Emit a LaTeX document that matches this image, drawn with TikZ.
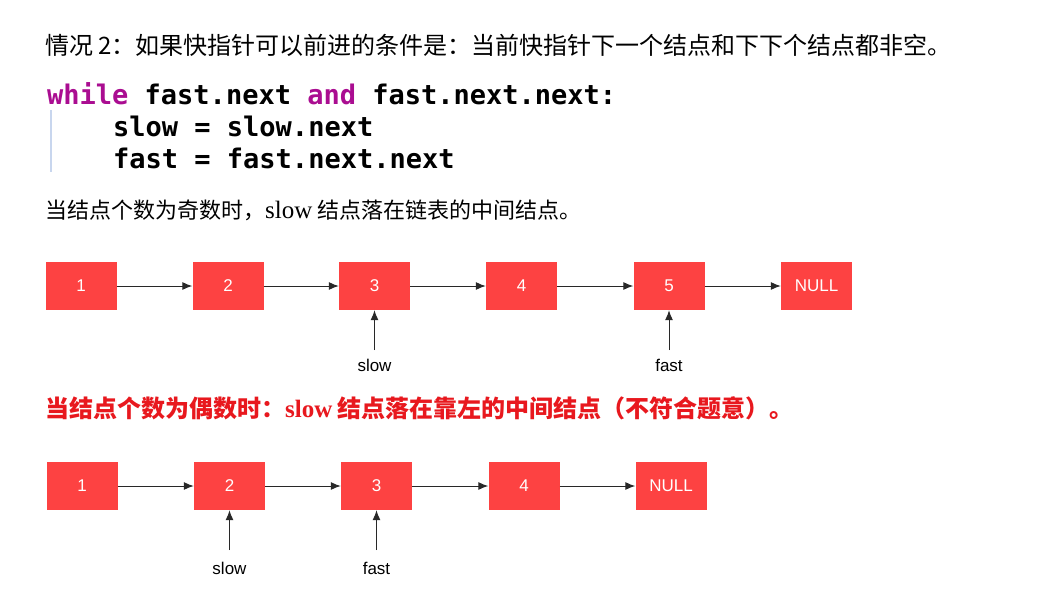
\documentclass[tikz,border=0pt]{standalone}
\usepackage{fontspec}
\setmainfont{Liberation Serif}
\newfontfamily\cjk{Noto Sans CJK SC}
\newfontfamily\codefont{DejaVu Sans Mono}
\newfontfamily\labfont{Liberation Sans}
\usetikzlibrary{arrows.meta}
\definecolor{boxred}{RGB}{253,66,66}
\definecolor{kw}{RGB}{170,13,145}
\definecolor{warnred}{RGB}{232,24,30}
\definecolor{barblue}{RGB}{200,214,238}
\definecolor{arrowgray}{RGB}{40,40,40}
\tikzset{
  listbox/.style={fill=boxred, draw=none, minimum width=71pt, minimum height=48pt, inner sep=0pt,
    text=white, font=\labfont\fontsize{17}{17}\selectfont},
  link/.style={draw=arrowgray, line width=1pt, -{Latex[length=10pt,width=8pt]}},
  ptrlabel/.style={font=\labfont\fontsize{17}{17}\selectfont, inner sep=0pt, text=black},
  textline/.style={anchor=west, inner sep=0pt},
  codeline/.style={anchor=west, inner sep=0pt, font=\codefont\bfseries\fontsize{27}{27}\selectfont}
}
\begin{document}
\begin{tikzpicture}[x=1pt,y=-1pt]
\useasboundingbox (0,0) rectangle (1056,605);
\fill[white] (0,0) rectangle (1056,605);

% heading
\node[textline, font=\cjk\fontsize{24}{24}\selectfont] (t1) at (45,45) {情况 2：如果快指针可以前进的条件是：当前快指针下一个结点和下下个结点都非空。};

% code
\node[codeline] (c1) at (47,94) {\textcolor{kw}{while} fast.next \textcolor{kw}{and} fast.next.next:};
\node[codeline] (c2) at (113,126) {slow = slow.next};
\node[codeline] (c3) at (113,158) {fast = fast.next.next};
\draw[barblue, line width=1.5pt] (51,110) -- (51,172);

% odd case text
\node[textline] (t2) at (45,210) {\cjk\fontsize{22}{22}\selectfont 当结点个数为奇数时，{\rmfamily\fontsize{25}{25}\selectfont slow} 结点落在链表的中间结点。};

% top list
\node[listbox] (a1) at (81,286) {1};
\node[listbox] (a2) at (228,286) {2};
\node[listbox] (a3) at (374.5,286) {3};
\node[listbox] (a4) at (521.5,286) {4};
\node[listbox] (a5) at (669,286) {5};
\node[listbox] (a6) at (816.5,286) {NULL};
\draw[link] (a1) -- (a2);
\draw[link] (a2) -- (a3);
\draw[link] (a3) -- (a4);
\draw[link] (a4) -- (a5);
\draw[link] (a5) -- (a6);
\coordinate (sa) at (374.5,350);
\coordinate (fa) at (669,350);
\draw[link] (sa) -- (a3.south);
\draw[link] (fa) -- (a5.south);
\node[ptrlabel] (ls1) at (374.5,365) {slow};
\node[ptrlabel] (lf1) at (669,365) {fast};

% even case text
\node[textline, text=warnred] (t3) at (45,408) {\cjk\bfseries\fontsize{24}{24}\selectfont 当结点个数为偶数时：{\rmfamily\bfseries\fontsize{25}{25}\selectfont slow} 结点落在靠左的中间结点（不符合题意）。};

% bottom list
\node[listbox] (b1) at (82,486) {1};
\node[listbox] (b2) at (229.5,486) {2};
\node[listbox] (b3) at (376.5,486) {3};
\node[listbox] (b4) at (524,486) {4};
\node[listbox] (b5) at (671,486) {NULL};
\draw[link] (b1) -- (b2);
\draw[link] (b2) -- (b3);
\draw[link] (b3) -- (b4);
\draw[link] (b4) -- (b5);
\coordinate (sb) at (229.5,550);
\coordinate (fb) at (376.5,550);
\draw[link] (sb) -- (b2.south);
\draw[link] (fb) -- (b3.south);
\node[ptrlabel] (ls2) at (229.5,568) {slow};
\node[ptrlabel] (lf2) at (376.5,568) {fast};
\end{tikzpicture}
\end{document}
